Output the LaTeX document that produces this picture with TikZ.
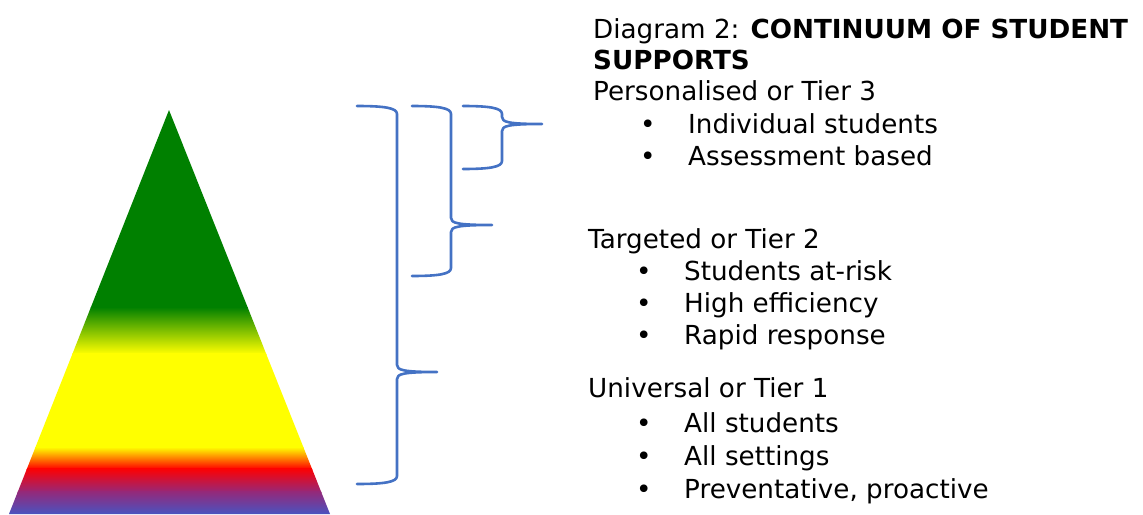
\documentclass[tikz,border=0pt]{standalone}
\usepackage{fontspec}
\setmainfont{DejaVu Sans}
\definecolor{bracecol}{RGB}{68,114,196}
\definecolor{gr}{RGB}{0,128,0}
\definecolor{yl}{RGB}{255,255,0}
\definecolor{og}{RGB}{255,150,0}
\definecolor{rd}{RGB}{255,0,0}
\definecolor{pu}{RGB}{150,40,120}
\definecolor{bl}{RGB}{70,85,195}
\definecolor{lg}{RGB}{150,200,0}
\newcommand{\mybrace}[6]{%
\draw[brace] (#1,#4) .. controls ({#2-12},#4) and (#2,{#4+2}) .. (#2,{#4+8}) -- (#2,{#5-7}) .. controls (#2,{#5-2}) and ({#2+6},#5) .. (#3,#5) .. controls ({#2+6},#5) and (#2,{#5+2}) .. (#2,{#5+7}) -- (#2,{#6-8}) .. controls (#2,{#6-2}) and ({#2-12},#6) .. (#1,#6);}
\begin{document}
\begin{tikzpicture}[x=1pt,y=-1pt,
  brace/.style={draw=bracecol,line width=2.6pt,line join=round,line cap=round},
  txt/.style={anchor=base west,inner sep=0pt,font=\fontsize{26.2}{30}\selectfont}]
\useasboundingbox (0,0) rectangle (1143,514);
\begin{scope}
\clip (169,110) -- (330,514) -- (9,514) -- cycle;
\fill[gr] (0,100) rectangle (340,308);
\shade[top color=gr,middle color=lg,bottom color=yl] (0,307) rectangle (340,354);
\fill[yl] (0,353) rectangle (340,448);
\shade[top color=yl,middle color=og,bottom color=rd] (0,447) rectangle (340,469);
\shade[top color=rd,bottom color=pu] (0,468) rectangle (340,492);
\shade[top color=pu,bottom color=bl] (0,491) rectangle (340,515);
\end{scope}
\mybrace{357}{397}{437}{106}{372}{484}
\mybrace{412}{451}{492}{106}{225}{276}
\mybrace{463}{502}{542}{106}{124}{169}
\node[txt] (t1) at (593,38) {Diagram 2: \textbf{CONTINUUM OF STUDENT}};
\node[txt] (t2) at (593,69) {\textbf{SUPPORTS}};
\node[txt] (p0) at (593,100) {Personalised or Tier 3};
\node[txt] (p1b) at (640,133) {•};
\node[txt] (p1) at (688,133) {Individual students};
\node[txt] (p2b) at (640,165) {•};
\node[txt] (p2) at (688,165) {Assessment based};
\node[txt] (g0) at (588,248) {Targeted or Tier 2};
\node[txt] (g1b) at (636,280) {•};
\node[txt] (g1) at (684,280) {Students at-risk};
\node[txt] (g2b) at (636,312) {•};
\node[txt] (g2) at (684,312) {High efficiency};
\node[txt] (g3b) at (636,344) {•};
\node[txt] (g3) at (684,344) {Rapid response};
\node[txt] (u0) at (588,397) {Universal or Tier 1};
\node[txt] (u1b) at (636,432) {•};
\node[txt] (u1) at (684,432) {All students};
\node[txt] (u2b) at (636,465) {•};
\node[txt] (u2) at (684,465) {All settings};
\node[txt] (u3b) at (636,498) {•};
\node[txt] (u3) at (684,498) {Preventative, proactive};
\end{tikzpicture}
\end{document}
